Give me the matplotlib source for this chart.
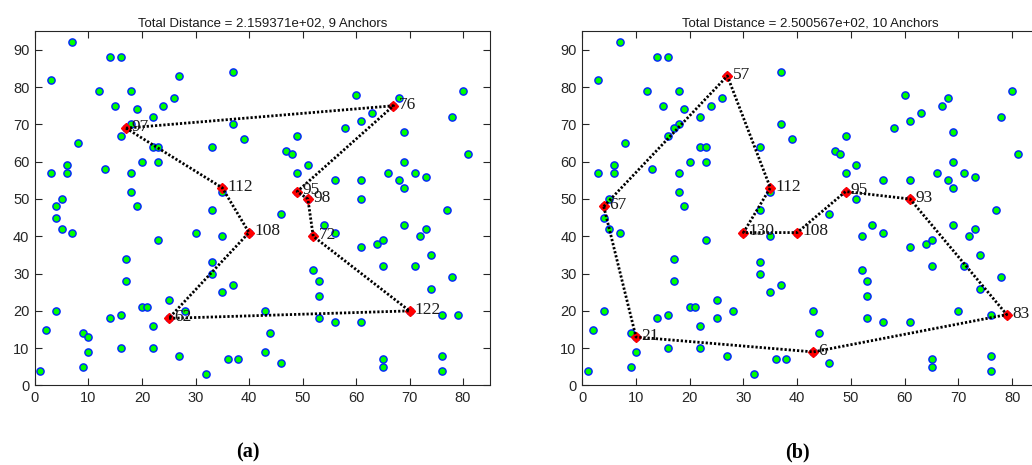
import matplotlib
matplotlib.use('Agg')
import matplotlib.pyplot as plt
import numpy as np

# sensor nodes (same field in both panels)
node_x = [7, 14, 16, 3, 27, 37, 12, 18, 15, 19, 24, 26, 22, 18, 17, 37, 39, 16, 8, 22,
          23, 33, 20, 23, 3, 6, 6, 13, 18, 18, 35, 35,
          5, 4, 4, 5, 7, 19, 33, 30, 35, 40, 23, 17, 17, 33, 33, 37, 35, 25,
          25, 28, 20, 21, 4, 14, 16, 22, 2, 9, 10, 10, 16, 22, 27, 36, 38, 1, 9, 32,
          43, 46, 65, 65, 76, 76,
          60, 68, 67, 63, 61, 58, 69, 80, 78, 81, 49, 47, 48, 51, 49, 56, 61, 69,
          66, 68, 69, 71, 73, 49,
          51, 61, 77, 46, 54, 52, 56, 69, 73, 72, 61, 64, 65, 74, 65, 71, 78, 74,
          52, 53, 53, 53, 56, 61, 70, 76, 79, 43, 44]
node_y = [92, 88, 88, 82, 83, 84, 79, 79, 75, 74, 75, 77, 72, 70, 69, 70, 66, 67, 65, 64,
          64, 64, 60, 60, 57, 59, 57, 58, 57, 52, 53, 52,
          50, 48, 45, 42, 41, 48, 47, 41, 40, 41, 39, 34, 28, 33, 30, 27, 25, 23,
          18, 20, 21, 21, 20, 18, 19, 16, 15, 14, 13, 9, 10, 10, 8, 7, 7, 4, 5, 3,
          9, 6, 7, 5, 8, 4,
          78, 77, 75, 73, 71, 69, 68, 79, 72, 62, 67, 63, 62, 59, 57, 55, 55, 60,
          57, 55, 53, 57, 56, 52,
          50, 50, 47, 46, 43, 40, 41, 43, 42, 40, 37, 38, 39, 35, 32, 32, 29, 26,
          31, 28, 24, 18, 17, 17, 20, 19, 19, 20, 14]

# anchors, in tour order
a_ids = [97, 76, 95, 98, 72, 122, 62, 108, 112]
a_x = [17, 67, 49, 51, 52, 70, 25, 40, 35]
a_y = [69, 75, 52, 50, 40, 20, 18, 41, 53]
a_title = 'Total Distance = 2.159371e+02, 9 Anchors'

b_ids = [67, 57, 112, 130, 108, 95, 93, 83, 6, 21]
b_x = [4, 27, 35, 30, 40, 49, 61, 79, 43, 10]
b_y = [48, 83, 53, 41, 41, 52, 50, 19, 9, 13]
b_title = 'Total Distance = 2.500567e+02, 10 Anchors'

tick_col = '#262626'

fig = plt.figure(figsize=(10.32, 4.65), dpi=100)
ax1 = fig.add_axes([0.0339, 0.171, 0.4407, 0.762])
ax2 = fig.add_axes([0.5642, 0.171, 0.4426, 0.762])


def draw_panel(ax, ids, ax_x, ax_y, title):
    ax.plot(node_x, node_y, 'o', ms=5.2, mfc='#00ff00', mec='#0022ff', mew=1.0, zorder=2)
    ax.plot(ax_x, ax_y, 'D', ms=4.8, mfc='red', mec='red', zorder=3)
    tx = ax_x + [ax_x[0]]
    ty = ax_y + [ax_y[0]]
    ax.plot(tx, ty, color='black', lw=2.0, dashes=(0.8, 0.7), dash_capstyle='butt', zorder=4)
    for i, x, y in zip(ids, ax_x, ax_y):
        ax.text(x + 1, y + 0.3, str(i), fontsize=12.5, family='Liberation Serif',
                ha='left', va='center', color='#1a1a1a', zorder=5)
    ax.set_xlim(0, 85)
    ax.set_ylim(0, 95)
    ax.set_xticks(np.arange(0, 81, 10))
    ax.set_yticks(np.arange(0, 91, 10))
    ax.tick_params(direction='in', length=5, width=0.8, top=True, right=True,
                   labelsize=10.5, colors=tick_col, labelcolor=tick_col, pad=4)
    for lab in ax.get_xticklabels() + ax.get_yticklabels():
        lab.set_family('Liberation Sans')
    for s in ax.spines.values():
        s.set_color(tick_col)
        s.set_linewidth(0.8)
    ax.set_title(title, fontsize=9.5, family='Liberation Sans', color='#1a1a1a', pad=3)


draw_panel(ax1, a_ids, a_x, a_y, a_title)
draw_panel(ax2, b_ids, b_x, b_y, b_title)

fig.text(248 / 1032, 1 - 452 / 465, '(a)', fontsize=14.5, fontweight='bold',
         family='Liberation Serif', ha='center', va='center')
fig.text(797 / 1032, 1 - 452 / 465, '(b)', fontsize=14.5, fontweight='bold',
         family='Liberation Serif', ha='center', va='center')

fig.savefig('out.png', dpi=100)
